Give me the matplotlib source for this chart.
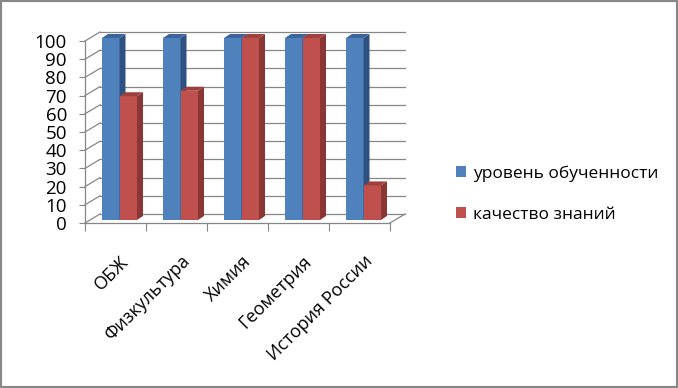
import matplotlib.pyplot as plt
from matplotlib.patches import Polygon, Rectangle
from matplotlib.transforms import ScaledTranslation
import numpy as np

plt.rcParams['font.family'] = ['Open Sans', 'DejaVu Sans']

subjects = ['ОБЖ', 'Физкультура', 'Химия', 'Геометрия', 'История России']
series_names = ['уровень обученности', 'качество знаний']
obuchennost = [100, 100, 100, 100, 100]
kachestvo = [68, 71, 100, 100, 19]
yticks = list(range(0, 101, 10))

front_colors = ['#4F81BD', '#C0504D']
side_colors = ['#2F5182', '#8A3634']
top_colors = ['#3E659B', '#9E403D']
grid_color = '#868686'

W, H = 678, 388
fig = plt.figure(figsize=(W / 100, H / 100), dpi=100)
ax = fig.add_axes([85 / W, 1 - 223 / H, 305 / W, 182 / H])
ax.set_xlim(-0.5, len(subjects) - 0.5)
ax.set_ylim(0, 100)

# pixel -> data unit helpers
px_x = (len(subjects)) / 305.0
px_y = 100 / 182.0

# back wall / floor (fake 3d)
wdx, wdy = 15 * px_x, 9 * px_y
x0, x1 = -0.5, len(subjects) - 0.5
for v in yticks:
    ax.plot([x0 + wdx, x1 + wdx], [v + wdy, v + wdy], color=grid_color, lw=0.9, clip_on=False, zorder=1)
    ax.plot([x0, x0 + wdx], [v, v + wdy], color=grid_color, lw=0.9, clip_on=False, zorder=1)
ax.plot([x1, x1 + wdx], [0, wdy], color=grid_color, lw=0.9, clip_on=False, zorder=1)

# bars
w = 0.287
sh = 4 * px_x
base = 3 * px_y
bdx, bdy = 6 * px_x, 4 * px_y
x = np.arange(len(subjects))
series = [obuchennost, kachestvo]
handles = []
for i in range(len(subjects)):
    for k, vals in enumerate(series):
        left = x[i] + sh + (k - 1) * w
        top = vals[i] + base
        b = ax.bar(left, vals[i], width=w, bottom=base, align='edge',
                   color=front_colors[k], zorder=3 + i * 4 + k * 2, clip_on=False)
        if i == 0:
            handles.append(b)
        side = Polygon([(left + w, base), (left + w + bdx, base + bdy),
                        (left + w + bdx, top + bdy), (left + w, top)],
                       closed=True, fc=side_colors[k], ec='none', clip_on=False,
                       zorder=3 + i * 4 + k * 2)
        cap = Polygon([(left, top), (left + bdx, top + bdy),
                       (left + w + bdx, top + bdy), (left + w, top)],
                      closed=True, fc=top_colors[k], ec='none', clip_on=False,
                      zorder=3 + i * 4 + k * 2)
        ax.add_patch(side)
        ax.add_patch(cap)

for s in ['top', 'right']:
    ax.spines[s].set_visible(False)
for s in ['left', 'bottom']:
    ax.spines[s].set_color(grid_color)
    ax.spines[s].set_linewidth(0.9)

ax.set_yticks(yticks)
ax.tick_params(axis='y', length=4, color=grid_color, labelsize=13.5, pad=9)
ax.set_xticks(np.arange(len(subjects) + 1) - 0.5)
ax.set_xticklabels([])
ax.tick_params(axis='x', which='major', length=6, color=grid_color)
ax.set_xticks(x, minor=True)
ax.set_xticklabels(subjects, minor=True, fontsize=13)
ax.tick_params(axis='x', which='minor', length=0, pad=21)
shift = ScaledTranslation(4 / 100, 0, fig.dpi_scale_trans)
for lab in ax.get_xticklabels(minor=True):
    lab.set_rotation(45)
    lab.set_ha('right')
    lab.set_rotation_mode('anchor')
    lab.set_transform(lab.get_transform() + shift)

fig.legend(handles, series_names, loc='center left', bbox_to_anchor=(440 / W, 1 - 194 / H),
           frameon=False, fontsize=12.5, handlelength=0.6, handleheight=0.6,
           handletextpad=0.4, labelspacing=1.45)

fig.patches.append(Rectangle((0, 0), 1, 1, transform=fig.transFigure, fill=False,
                             ec='#888888', lw=3, zorder=10))

fig.savefig('out.png', dpi=100)
